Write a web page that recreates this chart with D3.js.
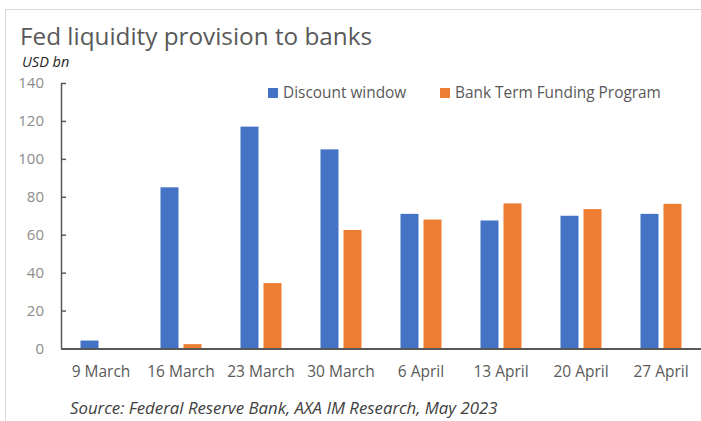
<!DOCTYPE html>
<html>
<head>
<meta charset="utf-8">
<script src="https://cdn.jsdelivr.net/npm/d3@7"></script>
<style>
  body { margin: 0; background: #fff; }
  text { font-family: "Open Sans", sans-serif; }
</style>
</head>
<body>
<div id="chart-area"></div>
<script>
// data
const categories = ['9 March', '16 March', '23 March', '30 March', '6 April', '13 April', '20 April', '27 April'];
const discountWindow = [4.2, 85, 117, 105, 71, 67.5, 70, 71];
const btfp = [0, 2.3, 34.5, 62.5, 68, 76.5, 73.5, 76.3];
const seriesNames = ['Discount window', 'Bank Term Funding Program'];
const yTicks = [0, 20, 40, 60, 80, 100, 120, 140];

// sizes
const width = 701;
const height = 421;
const plot = { left: 61, right: 701, top: 83, bottom: 348.5 };

const colors = ['#4472C4', '#ED7D31'];

const svg = d3.select('#chart-area').append('svg')
    .attr('width', width)
    .attr('height', height)

// light frame of the original chart
svg.append('path')
    .attr('d', `M5.5,${height} V9.5 H${width}`)
    .attr('fill', 'none')
    .attr('stroke', '#d9d9d9')

// title and unit
svg.append('text')
    .attr('x', 20)
    .attr('y', 45)
    .attr('font-size', '24.3px')
    .attr('fill', '#595959')
    .text('Fed liquidity provision to banks')

svg.append('text')
    .attr('x', 22)
    .attr('y', 67)
    .attr('font-size', '14.5px')
    .attr('font-style', 'italic')
    .attr('fill', '#262626')
    .text('USD bn')

// scales
const x = d3.scaleBand()
    .domain(categories)
    .range([plot.left, plot.right])

const x1 = d3.scaleBand()
    .domain(seriesNames)
    .range([19.5, 60.5])
    .paddingInner(5 / 23)

const y = d3.scaleLinear()
    .domain([0, 140])
    .range([plot.bottom, plot.top])

// bars
const rows = categories.map((c, i) => ({ cat: c, values: [discountWindow[i], btfp[i]] }))

const groups = svg.append('g').selectAll('g')
    .data(rows)
    .enter().append('g')
    .attr('transform', d => `translate(${x(d.cat)},0)`)

groups.selectAll('rect')
    .data(d => d.values.map((v, j) => ({ name: seriesNames[j], v: v, j: j })))
    .enter().append('rect')
    .attr('x', d => x1(d.name))
    .attr('y', d => y(d.v))
    .attr('width', x1.bandwidth())
    .attr('height', d => y(0) - y(d.v))
    .attr('fill', d => colors[d.j])

// y axis, ticks pointing into the plot
const yAxisGroup = svg.append('g')
    .attr('transform', `translate(${plot.left},0)`)
    .call(d3.axisLeft(y).tickValues(yTicks).tickSizeInner(-5).tickSizeOuter(0).tickPadding(17))

yAxisGroup.select('.domain').attr('stroke', '#595959').attr('stroke-width', 1.5)
yAxisGroup.selectAll('.tick line').attr('stroke', '#595959').attr('stroke-width', 1.5)
yAxisGroup.selectAll('.tick text')
    .attr('font-size', '15px')
    .attr('fill', '#8c8c8c')
    .attr('font-family', '"Open Sans", sans-serif')

// x axis
const xAxisGroup = svg.append('g')
    .attr('transform', `translate(0,${plot.bottom})`)
    .call(d3.axisBottom(x).tickSize(0).tickPadding(17))

xAxisGroup.select('.domain').attr('stroke', '#595959').attr('stroke-width', 2)
xAxisGroup.selectAll('.tick text')
    .attr('font-size', '15.5px')
    .attr('fill', '#595959')
    .attr('font-family', '"Open Sans", sans-serif')

// legend
const legendX = [268, 440]
const legend = svg.append('g').selectAll('g')
    .data(seriesNames)
    .enter().append('g')
    .attr('transform', (d, i) => `translate(${legendX[i]},88)`)

legend.append('rect')
    .attr('width', 10)
    .attr('height', 10)
    .attr('fill', (d, i) => colors[i])

legend.append('text')
    .attr('x', 15)
    .attr('y', 10)
    .attr('font-size', '15.4px')
    .attr('fill', '#595959')
    .text(d => d)

// source note
svg.append('text')
    .attr('x', 70)
    .attr('y', 414)
    .attr('font-size', '16.8px')
    .attr('font-style', 'italic')
    .attr('fill', '#404040')
    .text('Source: Federal Reserve Bank, AXA IM Research, May 2023')
</script>
</body>
</html>
